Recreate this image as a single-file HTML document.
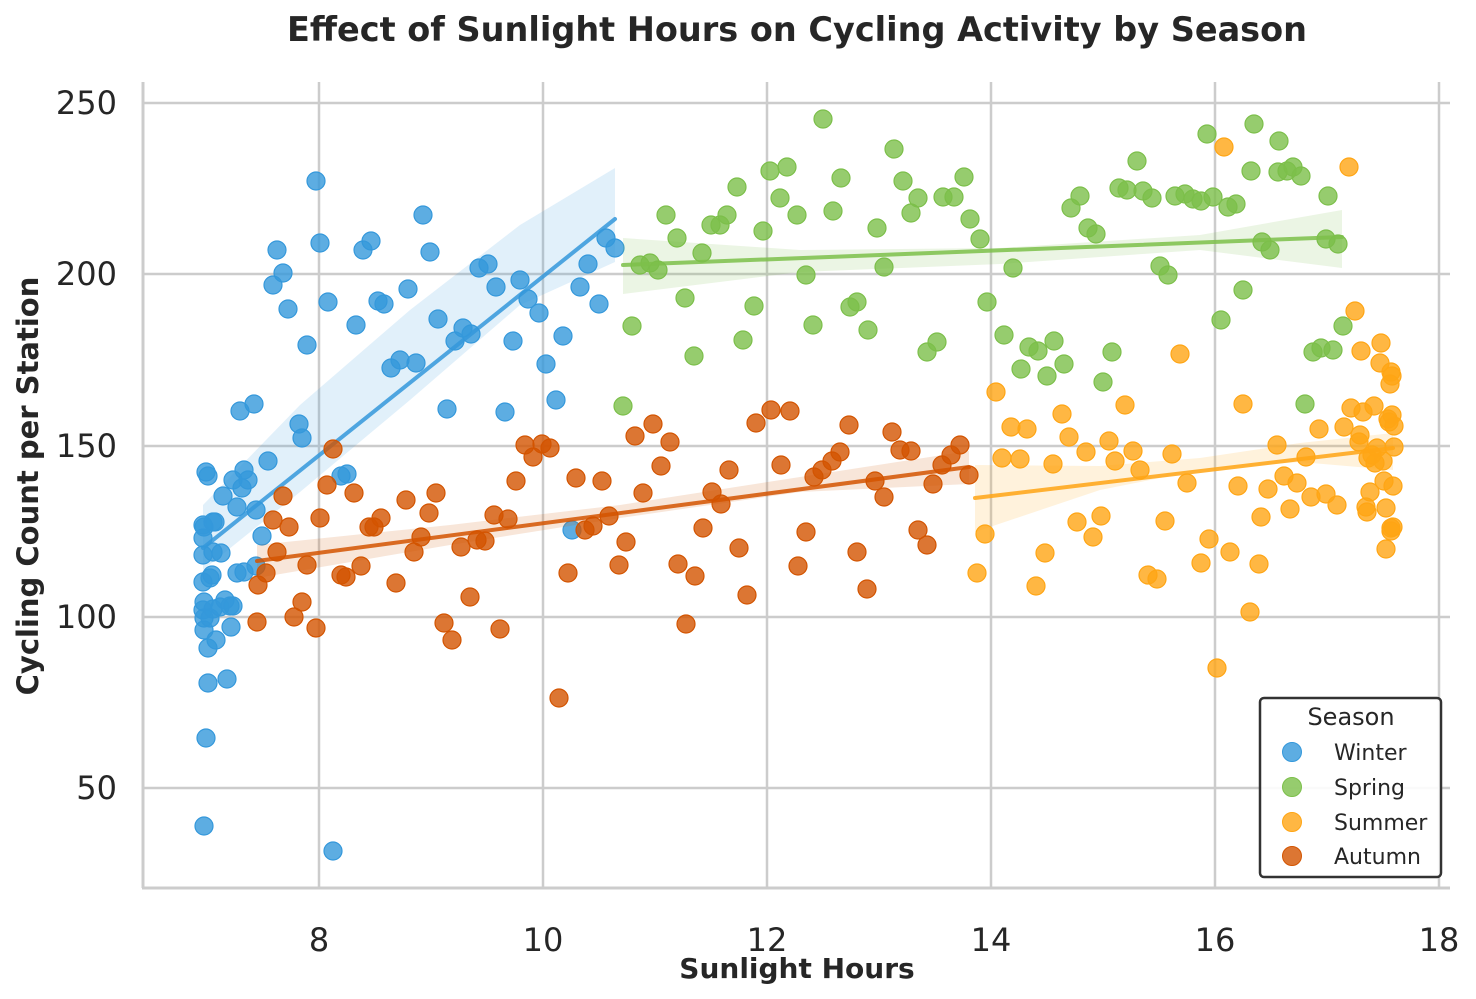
<!DOCTYPE html>
<html><head><meta charset="utf-8"><style>
html,body{margin:0;padding:0;background:#fff;}
svg{display:block;font-family:"DejaVu Sans","Liberation Sans",sans-serif;}
</style></head><body>
<svg id="s" width="1476" height="999" viewBox="0 0 1476 999" xmlns="http://www.w3.org/2000/svg">
<rect width="1476" height="999" fill="#fff"/>
<g stroke="#cccccc" stroke-width="2.5">
<line x1="319" y1="82" x2="319" y2="887"/><line x1="543" y1="82" x2="543" y2="887"/><line x1="767" y1="82" x2="767" y2="887"/><line x1="991" y1="82" x2="991" y2="887"/><line x1="1215" y1="82" x2="1215" y2="887"/><line x1="1439" y1="82" x2="1439" y2="887"/>
<line x1="143" y1="103" x2="1450" y2="103"/><line x1="143" y1="274" x2="1450" y2="274"/><line x1="143" y1="446" x2="1450" y2="446"/><line x1="143" y1="617" x2="1450" y2="617"/><line x1="143" y1="788" x2="1450" y2="788"/>
</g>
<g stroke="#cccccc" stroke-width="3"><line x1="143" y1="82" x2="143" y2="888"/><line x1="142" y1="888" x2="1450" y2="888"/></g>
<g fill="#262626" font-size="32" text-anchor="middle">
<text x="319" y="951">8</text><text x="543" y="951">10</text><text x="767" y="951">12</text><text x="991" y="951">14</text><text x="1215" y="951">16</text><text x="1439" y="951">18</text>
</g>
<g fill="#262626" font-size="32" text-anchor="end">
<text x="117" y="114">250</text><text x="117" y="285">200</text><text x="117" y="457">150</text><text x="117" y="628">100</text><text x="117" y="799">50</text>
</g>
<text x="797" y="41" text-anchor="middle" font-size="33.5" font-weight="bold" fill="#262626">Effect of Sunlight Hours on Cycling Activity by Season</text>
<text x="797" y="978" text-anchor="middle" font-size="28" font-weight="bold" fill="#262626">Sunlight Hours</text>
<text transform="translate(38,486) rotate(-90)" text-anchor="middle" font-size="29" font-weight="bold" fill="#262626">Cycling Count per Station</text>
<g id="data"></g>
<rect x="1260" y="698" width="181" height="179" rx="4" fill="#fff" fill-opacity="0.9" stroke="#333" stroke-width="2.5"/>
<text x="1351" y="725" text-anchor="middle" font-size="24" fill="#262626">Season</text>
<g font-size="22" fill="#262626">
<circle cx="1292" cy="752" r="9.5" fill="#3498db" fill-opacity="0.8" stroke="#3498db"/><text x="1334" y="760">Winter</text>
<circle cx="1292" cy="787" r="9.5" fill="#7cbf4a" fill-opacity="0.8" stroke="#7cbf4a"/><text x="1334" y="795">Spring</text>
<circle cx="1292" cy="822" r="9.5" fill="#ffa514" fill-opacity="0.8" stroke="#ffa514"/><text x="1334" y="830">Summer</text>
<circle cx="1292" cy="856" r="9.5" fill="#d35400" fill-opacity="0.8" stroke="#d35400"/><text x="1334" y="864">Autumn</text>
</g>
</svg>
<script>
var W=[[204,826],[333,851],[206,738],[208,683],[227,679],[208,648],[204,630],[216,640],[231,627],[204,618],[203,610],[210,618],[213,609],[220,607],[230,606],[225,600],[233,606],[204,602],[203,582],[210,578],[212,575],[203,555],[213,552],[221,553],[203,538],[203,525],[215,522],[204,527],[213,522],[223,496],[208,476],[206,472],[233,480],[244,470],[242,488],[248,480],[237,507],[256,510],[262,536],[256,566],[237,573],[244,572],[268,461],[240,411],[254,404],[299,424],[302,438],[307,345],[273,285],[277,250],[283,273],[288,309],[316,181],[320,243],[328,302],[347,474],[341,476],[356,325],[363,250],[371,241],[378,301],[384,304],[391,368],[400,360],[408,289],[416,363],[423,215],[430,252],[438,319],[447,409],[455,341],[463,328],[471,334],[479,268],[488,264],[496,287],[505,412],[513,341],[520,280],[528,299],[539,313],[546,364],[556,400],[563,336],[572,530],[580,287],[588,264],[599,304],[606,238],[615,248]];
var S=[[623,406],[632,326],[640,265],[650,263],[658,270],[666,215],[677,238],[685,298],[694,356],[702,253],[711,225],[720,225],[727,215],[737,187],[743,340],[754,306],[763,231],[770,171],[780,198],[787,167],[797,215],[806,275],[813,325],[823,119],[833,211],[841,178],[850,307],[857,302],[868,330],[877,228],[884,267],[894,149],[903,181],[911,213],[918,198],[927,352],[937,342],[943,197],[954,197],[964,177],[970,219],[980,239],[987,302],[1004,335],[1013,268],[1021,369],[1029,347],[1038,351],[1047,376],[1054,341],[1064,364],[1071,208],[1080,196],[1088,228],[1096,234],[1103,382],[1112,352],[1119,188],[1127,190],[1137,161],[1143,191],[1152,198],[1160,266],[1168,275],[1175,196],[1185,194],[1193,199],[1201,201],[1207,134],[1213,197],[1221,320],[1228,207],[1236,204],[1243,290],[1251,171],[1254,124],[1262,242],[1270,250],[1279,141],[1278,172],[1287,171],[1293,167],[1301,176],[1305,404],[1313,352],[1321,348],[1328,196],[1326,239],[1333,350],[1338,244],[1343,326]];
var U=[[977,573],[985,534],[996,392],[1002,458],[1011,427],[1020,459],[1027,429],[1036,586],[1045,553],[1053,464],[1062,414],[1069,437],[1077,522],[1086,452],[1093,537],[1101,516],[1109,441],[1115,461],[1125,405],[1133,451],[1140,470],[1148,575],[1157,579],[1165,521],[1172,454],[1180,354],[1187,483],[1201,563],[1209,539],[1217,668],[1224,147],[1230,552],[1238,486],[1243,404],[1250,612],[1259,564],[1261,517],[1268,489],[1277,445],[1284,476],[1290,509],[1297,483],[1306,457],[1311,497],[1319,429],[1326,494],[1337,505],[1344,427],[1349,167],[1351,408],[1355,311],[1359,442],[1361,351],[1363,412],[1366,507],[1367,512],[1368,458],[1370,492],[1374,406],[1377,448],[1380,363],[1381,343],[1383,461],[1384,481],[1386,508],[1386,549],[1388,419],[1389,422],[1390,384],[1391,528],[1391,372],[1391,531],[1392,376],[1392,415],[1393,527],[1393,486],[1394,447],[1394,426],[1375,463],[1372,455],[1360,435]];
var A=[[258,585],[257,622],[266,573],[273,520],[277,552],[283,496],[289,527],[294,617],[302,602],[307,565],[316,628],[320,518],[327,485],[333,449],[341,575],[346,577],[354,493],[361,566],[369,527],[374,527],[381,518],[396,583],[406,500],[414,552],[421,537],[429,513],[436,493],[444,623],[452,640],[461,547],[470,597],[477,540],[485,541],[494,515],[500,629],[508,519],[516,481],[525,445],[533,457],[542,444],[550,448],[559,698],[568,573],[576,478],[585,530],[593,526],[602,481],[609,516],[619,565],[626,542],[635,436],[643,493],[653,424],[661,466],[670,442],[678,564],[686,624],[695,576],[703,528],[712,492],[721,504],[729,470],[739,548],[747,595],[756,423],[771,410],[781,465],[790,411],[798,566],[806,532],[814,477],[822,470],[832,461],[840,452],[849,425],[857,552],[867,589],[875,481],[884,497],[892,432],[900,450],[911,451],[918,530],[927,545],[933,484],[942,465],[951,455],[960,445],[969,475]];
var series=[
 [W,"#3498db",[203,548,615,219],"203,505 300,405 410,310 520,225 615,168 615,262 520,305 410,400 300,492 203,570"],
 [S,"#7cbf4a",[623,265,1342,237],"623,238 800,250 1000,248 1200,235 1342,210 1342,268 1200,250 1000,264 800,272 623,294"],
 [U,"#ffa514",[975,498,1393,448],"975,465 1100,466 1200,458 1300,443 1393,433 1393,470 1300,462 1200,470 1100,490 975,532"],
 [A,"#d35400",[257,561,969,467],"257,545 450,525 620,505 800,477 969,451 969,484 800,492 620,518 450,545 257,578"]
];
var g=document.getElementById("data"),h="";
series.forEach(function(s){
 s[0].forEach(function(p){h+='<circle cx="'+p[0]+'" cy="'+p[1]+'" r="9" fill="'+s[1]+'" fill-opacity="0.8" stroke="'+s[1]+'" stroke-width="1.2"/>';});
 h+='<polygon points="'+s[3]+'" fill="'+s[1]+'" fill-opacity="0.15"/>';
 var l=s[2];h+='<line x1="'+l[0]+'" y1="'+l[1]+'" x2="'+l[2]+'" y2="'+l[3]+'" stroke="'+s[1]+'" stroke-width="4" stroke-opacity="0.85" stroke-linecap="round"/>';
});
g.innerHTML=h;
</script>
</body></html>
